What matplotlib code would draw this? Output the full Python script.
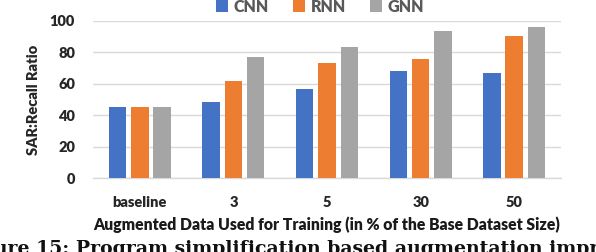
import matplotlib
matplotlib.use("Agg")
import matplotlib.pyplot as plt
import numpy as np

categories = ["baseline", "3", "5", "30", "50"]
series_names = ["CNN", "RNN", "GNN"]
cnn = [45.0, 48.6, 56.7, 68.1, 66.8]
rnn = [45.4, 61.9, 73.2, 75.7, 90.3]
gnn = [45.0, 76.8, 83.3, 93.5, 95.8]
yticks = [0, 20, 40, 60, 80, 100]
colors = ["#4472C4", "#ED7D31", "#A5A5A5"]

W, H = 596, 252
fig = plt.figure(figsize=(W / 100, H / 100), dpi=100)
ax = fig.add_axes([93 / W, 1 - 178.3 / H, 468 / W, 157.6 / H])

font = ["Lato", "DejaVu Sans"]
x = np.arange(len(categories))
step = 0.238
width = 0.187
for i, (vals, name, c) in enumerate(zip([cnn, rnn, gnn], series_names, colors)):
    ax.bar(x + (i - 1) * step, vals, width, color=c, label=name, zorder=3)

ax.set_xlim(-0.5, len(categories) - 0.5)
ax.set_ylim(0, 100)
ax.set_yticks(yticks)
ax.set_yticklabels([str(t) for t in yticks], fontfamily=font, fontweight="heavy",
                   fontsize=10.5, color="#262626")
ax.set_xticks(x)
ax.set_xticklabels(categories, fontfamily=font, fontweight="heavy", fontsize=10.5,
                   color="#262626")
ax.tick_params(axis="both", length=0)
ax.tick_params(axis="x", pad=13)
ax.tick_params(axis="y", pad=13)
ax.grid(axis="y", color="#D9D9D9", linewidth=1, zorder=0)
for s in ["top", "right", "left"]:
    ax.spines[s].set_visible(False)
ax.spines["bottom"].set_color("#D9D9D9")
ax.spines["bottom"].set_linewidth(1)

ax.set_ylabel("SAR:Recall Ratio", fontfamily=font, fontweight="heavy",
              fontsize=10.5, color="#262626", labelpad=7)
ax.set_xlabel("Augmented Data Used for Training (in % of the Base Dataset Size)",
              fontfamily=font, fontweight="heavy", fontsize=11.3,
              color="#1a1a1a", labelpad=5)

leg = fig.legend(loc="center", bbox_to_anchor=(320 / W, 1 - 6.5 / H), ncol=3,
                 frameon=False, handlelength=0.75, handleheight=0.75,
                 handletextpad=0.35, columnspacing=1.5,
                 prop={"family": font, "weight": "heavy", "size": 11.5})
for t in leg.get_texts():
    t.set_color("#595959")

fig.text(-40 / W, 1 - 240 / H,
         "Figure 15: Program simplification based augmentation improves",
         fontfamily=["DejaVu Serif"], fontweight="bold", fontsize=13.6,
         va="top", ha="left", color="#111111")

fig.savefig("out.png", dpi=100)
